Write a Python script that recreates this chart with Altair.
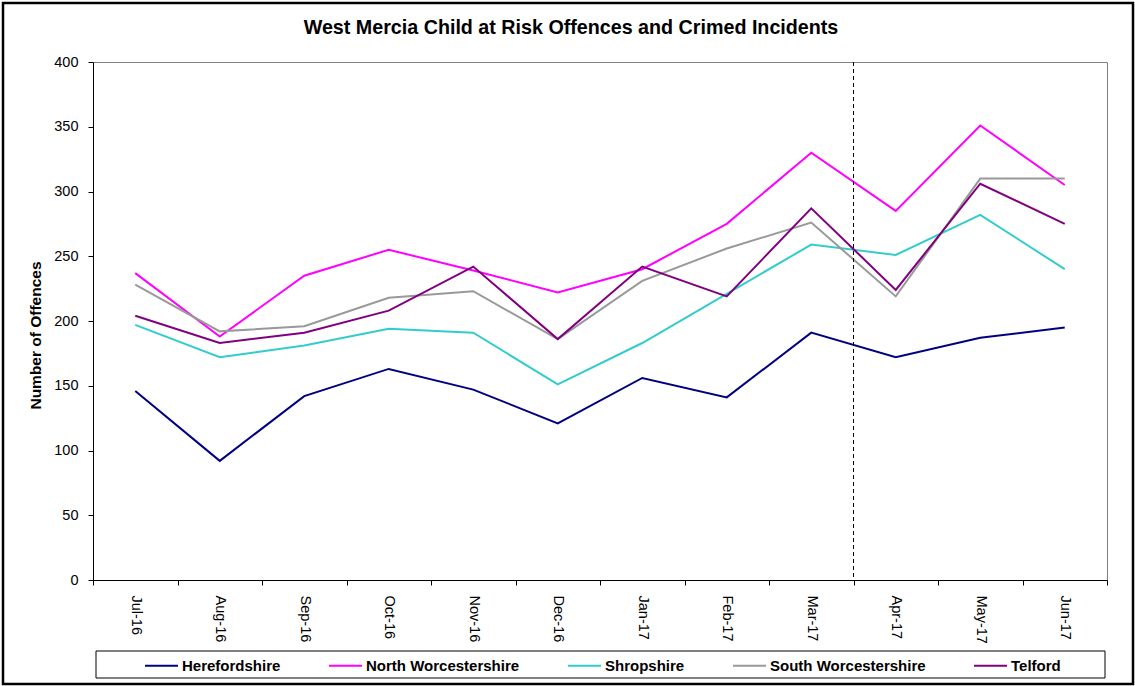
import altair as alt
import pandas as pd

# Monthly offence counts per policing area
months = ["Jul-16", "Aug-16", "Sep-16", "Oct-16", "Nov-16", "Dec-16",
          "Jan-17", "Feb-17", "Mar-17", "Apr-17", "May-17", "Jun-17"]
areas = ["Herefordshire", "North Worcestershire", "Shropshire",
         "South Worcestershire", "Telford"]
herefordshire = [146, 92, 142, 163, 147, 121, 156, 141, 191, 172, 187, 195]
north_worcestershire = [237, 188, 235, 255, 239, 222, 240, 275, 330, 285, 351, 305]
shropshire = [197, 172, 181, 194, 191, 151, 183, 221, 259, 251, 282, 240]
south_worcestershire = [228, 192, 196, 218, 223, 186, 231, 256, 276, 219, 310, 310]
telford = [204, 183, 191, 208, 242, 186, 242, 219, 287, 224, 306, 275]
colors = ["#000080", "#FF00FF", "#33CCCC", "#999999", "#800080"]
y_ticks = [0, 50, 100, 150, 200, 250, 300, 350, 400]
split_month = "Apr-17"
title_text = "West Mercia Child at Risk Offences and Crimed Incidents"

series = [herefordshire, north_worcestershire, shropshire,
          south_worcestershire, telford]
rows = []
for area, values in zip(areas, series):
    for m, v in zip(months, values):
        rows.append({"month": m, "area": area, "offences": v})
df = pd.DataFrame(rows)

W, H = 1014, 518
FONT = "Liberation Sans"

x_scale = alt.Scale(type="band", domain=months, paddingInner=0, paddingOuter=0)

lines = alt.Chart(df).mark_line(strokeWidth=2).encode(
    x=alt.X("month:O", scale=x_scale, bandPosition=0.5,
            axis=alt.Axis(title=None, labelAngle=90, labelFontSize=14.5,
                          labelColor="black", tickBand="extent", tickSize=5,
                          tickColor="black", domainColor="black",
                          labelPadding=10, grid=False)),
    y=alt.Y("offences:Q",
            scale=alt.Scale(domain=[0, 400], nice=False, zero=True),
            axis=alt.Axis(title="Number of Offences", values=y_ticks,
                          titleFontSize=15.5, titleFontWeight="bold",
                          titleColor="black", titleX=-58, titleY=273,
                          titleBaseline="middle", titleAngle=270,
                          labelFontSize=14.5, labelColor="black",
                          labelPadding=10, tickSize=5, tickColor="black",
                          domainColor="black", grid=False)),
    color=alt.Color("area:N", scale=alt.Scale(domain=areas, range=colors),
                    legend=alt.Legend(orient="none", legendX=51, legendY=586,
                                      direction="horizontal", title=None,
                                      labelFontSize=15, labelFontWeight="bold",
                                      labelColor="black",
                                      symbolType="stroke", symbolSize=1089,
                                      symbolStrokeWidth=2, labelOffset=3,
                                      columnPadding=44, padding=0)),
)

# Dashed divider at the start of the new reporting year
divider = alt.Chart(pd.DataFrame({"month": [split_month]})).mark_rule(
    color="black", strokeWidth=1, strokeDash=[4, 3]
).encode(x=alt.X("month:O", scale=x_scale, bandPosition=0))

frame_df = pd.DataFrame({"k": [0]})
# Outer chart frame
frame = alt.Chart(frame_df).mark_rect(
    fillOpacity=0, stroke="black", strokeWidth=2.5
).encode(x=alt.value(-90), x2=alt.value(1040), y=alt.value(-59), y2=alt.value(622))

# Box around the legend
legend_box = alt.Chart(frame_df).mark_rect(
    fill="white", stroke="black", strokeWidth=1
).encode(x=alt.value(3), x2=alt.value(1012), y=alt.value(589), y2=alt.value(616))

# Chart heading
heading = alt.Chart(frame_df).mark_text(
    text=title_text, fontSize=19.7, fontWeight="bold", color="black",
    align="center", baseline="alphabetic", font=FONT
).encode(x=alt.value(478), y=alt.value(-28))

chart = alt.layer(frame, legend_box, heading, lines, divider).properties(
    width=W, height=H,
    autosize=alt.AutoSizeParams(type="none"),
    padding={"left": 93, "top": 62, "right": 28, "bottom": 106},
).configure(
    font=FONT,
    background="white",
).configure_view(
    stroke="#808080", strokeWidth=1,
)

chart.save("out.html", embed_options={"renderer": "svg", "actions": False})
